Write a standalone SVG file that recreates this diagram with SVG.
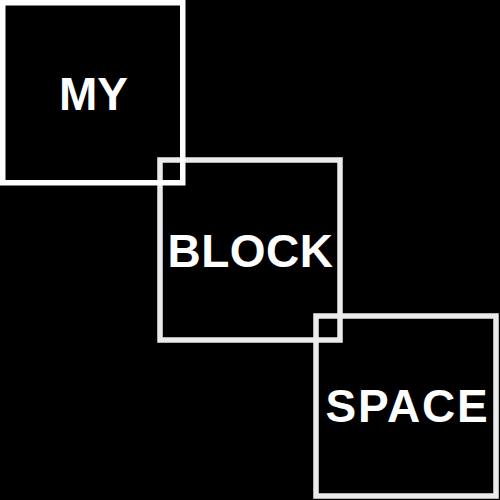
<svg xmlns="http://www.w3.org/2000/svg" width="500" height="500" viewBox="0 0 500 500">
<style>
.box{fill:none;stroke-width:5.5}
.lbl{font-family:"Liberation Sans",Arial,sans-serif;font-weight:bold;font-size:46px;fill:#ffffff;text-anchor:middle}
</style>
<rect x="0" y="0" width="500" height="500" fill="#000000"/>
<g id="connectors"></g>
<g id="node-block">
<rect class="box" x="160" y="160" width="180" height="180" stroke="#ebebed"/>
<text class="lbl" x="250.5" y="266.7" font-size="47" letter-spacing="0.5">BLOCK</text>
</g>
<g id="node-space">
<rect class="box" x="316" y="316" width="180" height="180" stroke="#ebebed"/>
<text class="lbl" x="407.5" y="421.7" letter-spacing="1.8">SPACE</text>
</g>
<g id="node-my">
<rect class="box" x="2.75" y="2.75" width="180" height="180" stroke="#ffffff"/>
<text class="lbl" x="93.5" y="110">MY</text>
</g>
</svg>
